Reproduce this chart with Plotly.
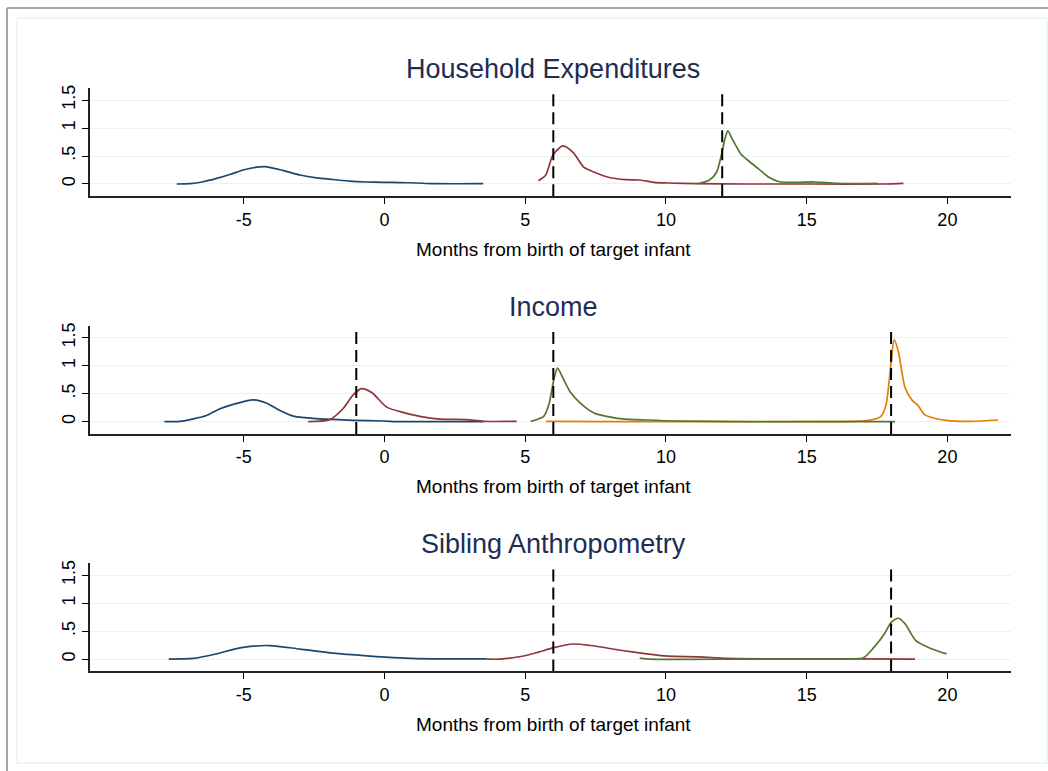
import plotly.graph_objects as go

W, H = 1048, 771

# ---------------- data ----------------
panel_titles = ["Household Expenditures", "Income", "Sibling Anthropometry"]
x_axis_title = "Months from birth of target infant"
x_ticks = [-5, 0, 5, 10, 15, 20]
y_ticks = [0, 0.5, 1, 1.5]
y_tick_text = ["0", ".5", "1", "1.5"]

# Panel 1: Household Expenditures
hh_navy_x = [-7.38, -6.91, -6.44, -5.96, -5.49, -5.02, -4.66, -4.25, -3.59, -3.0, -2.41, -1.82, -1.23, -0.63, -0.04, 0.55, 1.14, 1.73, 3.51]
hh_navy_y = [0.0, 0.006, 0.04, 0.10, 0.17, 0.25, 0.29, 0.31, 0.24, 0.16, 0.11, 0.08, 0.05, 0.036, 0.03, 0.025, 0.018, 0.006, 0.005]
hh_maroon_x = [5.47, 5.72, 5.99, 6.34, 6.71, 7.08, 7.46, 7.95, 8.57, 9.07, 9.57, 10.06, 11.05, 12.8, 15.28, 17.76, 18.44]
hh_maroon_y = [0.06, 0.15, 0.52, 0.68, 0.56, 0.30, 0.21, 0.12, 0.077, 0.071, 0.03, 0.018, 0.006, 0.0, 0.0, 0.0, 0.012]
hh_green_x = [11.15, 11.55, 11.8, 11.99, 12.11, 12.2, 12.36, 12.67, 12.92, 13.29, 13.66, 14.03, 14.66, 15.28, 15.9, 16.52, 17.51]
hh_green_y = [0.006, 0.07, 0.21, 0.56, 0.83, 0.95, 0.80, 0.53, 0.42, 0.27, 0.12, 0.04, 0.03, 0.036, 0.018, 0.006, 0.012]
hh_vlines = [6, 12]

# Panel 2: Income
inc_navy_x = [-7.82, -7.26, -6.79, -6.32, -5.84, -5.37, -4.66, -4.18, -3.71, -3.24, -2.53, -1.82, -1.11, -0.04, 0.55, 1.73, 3.51]
inc_navy_y = [0.0, 0.006, 0.05, 0.11, 0.23, 0.31, 0.39, 0.33, 0.20, 0.10, 0.06, 0.04, 0.024, 0.012, 0.0, 0.0, 0.0]
inc_maroon_x = [-2.71, -1.94, -1.46, -1.11, -0.81, -0.45, 0.08, 0.55, 1.26, 1.97, 2.92, 3.51, 4.70]
inc_maroon_y = [0.0, 0.036, 0.24, 0.48, 0.59, 0.52, 0.26, 0.18, 0.095, 0.047, 0.036, 0.006, 0.006]
inc_green_x = [5.20, 5.66, 5.84, 6.03, 6.15, 6.34, 6.59, 6.96, 7.46, 7.95, 8.45, 9.32, 10.31, 12.8, 15.28, 18.14]
inc_green_y = [0.006, 0.095, 0.30, 0.78, 0.955, 0.78, 0.54, 0.33, 0.15, 0.09, 0.05, 0.03, 0.012, 0.0, 0.0, 0.0]
inc_orange_x = [5.74, 7.83, 11.55, 15.28, 17.14, 17.64, 17.82, 17.99, 18.11, 18.26, 18.38, 18.5, 18.75, 18.94, 19.19, 19.5, 20.0, 20.87, 21.8]
inc_orange_y = [0.006, 0.0, 0.0, 0.0, 0.018, 0.095, 0.30, 1.01, 1.46, 1.25, 0.90, 0.60, 0.38, 0.30, 0.125, 0.065, 0.018, 0.006, 0.03]
inc_vlines = [-1, 6, 18]

# Panel 3: Sibling Anthropometry
sib_navy_x = [-7.66, -6.79, -5.96, -5.13, -4.07, -3.0, -1.82, -0.63, 0.55, 1.73, 3.63]
sib_navy_y = [0.0, 0.012, 0.095, 0.20, 0.243, 0.18, 0.107, 0.06, 0.024, 0.006, 0.006]
sib_maroon_x = [3.63, 4.10, 4.85, 5.47, 5.99, 6.71, 7.33, 8.45, 9.32, 10.06, 11.18, 12.17, 14.03, 16.52, 18.85]
sib_maroon_y = [0.0, 0.0, 0.047, 0.125, 0.20, 0.27, 0.243, 0.154, 0.095, 0.053, 0.042, 0.012, 0.006, 0.006, 0.0]
sib_green_x = [9.07, 9.44, 12.8, 16.52, 17.02, 17.39, 17.76, 18.01, 18.26, 18.5, 18.88, 19.37, 19.97]
sib_green_y = [0.018, 0.0, 0.0, 0.006, 0.024, 0.21, 0.45, 0.66, 0.73, 0.63, 0.33, 0.20, 0.095]
sib_vlines = [6, 18]

# ---------------- styling ----------------
NAVY, MAROON, GREEN, ORANGE = "#1a476f", "#90353b", "#55752f", "#e37e00"
TITLE_COL = "#1e2d53"
GRID_COL = "#eaf2f3"
FONT = "Liberation Sans, Arial, sans-serif"

X_RANGE = [-10.46, 22.26]
Y_RANGE = [-0.22, 1.71]
PX_X0, PX_X1 = 90, 1011
ZERO_PX = [181.7, 420.3, 658.7]   # pixel row of y=0 in each panel
PX_PER_Y = 56.2

panels = [
    [(hh_navy_x, hh_navy_y, NAVY), (hh_maroon_x, hh_maroon_y, MAROON), (hh_green_x, hh_green_y, GREEN)],
    [(inc_navy_x, inc_navy_y, NAVY), (inc_maroon_x, inc_maroon_y, MAROON),
     (inc_orange_x, inc_orange_y, ORANGE), (inc_green_x, inc_green_y, GREEN)],
    [(sib_navy_x, sib_navy_y, NAVY), (sib_maroon_x, sib_maroon_y, MAROON), (sib_green_x, sib_green_y, GREEN)],
]
vlines = [hh_vlines, inc_vlines, sib_vlines]

fig = go.Figure()
layout = dict(
    width=W, height=H, autosize=False,
    margin=dict(l=0, r=0, t=0, b=0),
    paper_bgcolor="white", plot_bgcolor="white",
    showlegend=False,
    font=dict(family=FONT, color="black", size=18),
)
shapes = []
annotations = []

for i, series in enumerate(panels):
    n = i + 1
    xa = "xaxis" if n == 1 else f"xaxis{n}"
    ya = "yaxis" if n == 1 else f"yaxis{n}"
    xr = "x" if n == 1 else f"x{n}"
    yr = "y" if n == 1 else f"y{n}"
    p0 = ZERO_PX[i]
    top_px = p0 - Y_RANGE[1] * PX_PER_Y
    bot_px = p0 - Y_RANGE[0] * PX_PER_Y
    layout[xa] = dict(
        domain=[PX_X0 / W, PX_X1 / W], range=X_RANGE, anchor=yr,
        tickmode="array", tickvals=x_ticks, ticktext=[str(t) for t in x_ticks],
        ticks="outside", ticklen=6, tickwidth=1.2, tickcolor="black",
        showline=True, linecolor="#222222", linewidth=1.6,
        showgrid=False, zeroline=False,
        tickfont=dict(family=FONT, size=18, color="black"),
    )
    layout[ya] = dict(
        domain=[1 - bot_px / H, 1 - top_px / H], range=Y_RANGE, anchor=xr,
        tickmode="array", tickvals=y_ticks, ticktext=y_tick_text, tickangle=-90,
        ticks="outside", ticklen=6, tickwidth=1.2, tickcolor="black",
        showline=True, linecolor="#222222", linewidth=1.6,
        showgrid=True, gridcolor=GRID_COL, gridwidth=1.3, zeroline=False,
        tickfont=dict(family=FONT, size=18, color="black"),
    )
    for vx in vlines[i]:
        shapes.append(dict(type="line", xref=xr, yref=yr, x0=vx, x1=vx, y0=Y_RANGE[0], y1=1.64,
                           line=dict(color="black", width=2, dash="12px,6px"), layer="above"))
    for (sx, sy, col) in series:
        fig.add_trace(go.Scatter(x=sx, y=sy, mode="lines", xaxis=xr, yaxis=yr,
                                 line=dict(color=col, width=1.7, shape="spline", smoothing=0.7),
                                 hoverinfo="skip"))
    # panel title
    annotations.append(dict(text=panel_titles[i], xref="paper", yref="paper",
                            x=553 / W, y=1 - (p0 - 115.5) / H, xanchor="center", yanchor="middle",
                            showarrow=False, font=dict(family=FONT, size=27, color=TITLE_COL)))
    # x axis title
    annotations.append(dict(text=x_axis_title, xref="paper", yref="paper",
                            x=553 / W, y=1 - (p0 + 65.5) / H, xanchor="center", yanchor="middle",
                            showarrow=False, font=dict(family=FONT, size=19, color="black")))

# outer frame decorations
shapes.append(dict(type="line", xref="paper", yref="paper", x0=7 / W, x1=1, y0=1 - 5 / H, y1=1 - 5 / H,
                   line=dict(color="#a6a6a6", width=2)))
shapes.append(dict(type="line", xref="paper", yref="paper", x0=7 / W, x1=7 / W, y0=0, y1=1 - 5 / H,
                   line=dict(color="#a6a6a6", width=2)))
shapes.append(dict(type="rect", xref="paper", yref="paper", x0=17 / W, x1=1047 / W, y0=1 - 763 / H, y1=1 - 15 / H,
                   line=dict(color=GRID_COL, width=1.5), layer="below"))

layout["shapes"] = shapes
layout["annotations"] = annotations
fig.update_layout(**layout)
fig.write_html("out.html")
